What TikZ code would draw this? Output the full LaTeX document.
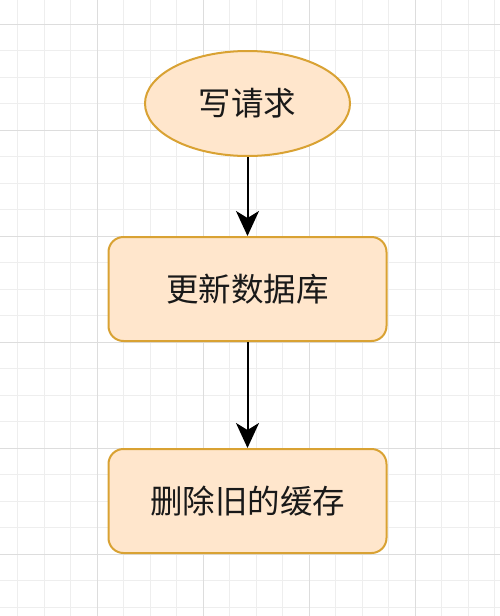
\documentclass[tikz,border=0pt]{standalone}
\usepackage{fontspec}
\newfontfamily\cjk{Noto Sans CJK SC}
\usetikzlibrary{shapes.geometric,arrows.meta}
\definecolor{riempi}{HTML}{FFE6CC}
\definecolor{bordo}{HTML}{D9A233}
\definecolor{griglia}{HTML}{EEEEEE}
\definecolor{grigliaforte}{HTML}{DDDDDD}
\begin{document}
\begin{tikzpicture}[x=1pt,y=-1pt,
        blocco/.style={draw=bordo, fill=riempi, line width=2pt, rounded corners=15pt, minimum width=278pt, minimum height=104pt, inner sep=0pt, text=black!90, font=\cjk\fontsize{32.5}{32.5}\selectfont},
        ovale/.style={blocco, ellipse, minimum width=205pt, minimum height=105pt},
        freccia/.style={line width=2pt, -{Stealth[length=25pt,width=23pt,inset=7pt]}}]

        % Sfondo e griglia
        \useasboundingbox (0,0) rectangle (500,616);
        \fill[white] (0,0) rectangle (500,616);
        \foreach \i in {0,...,18} \draw[griglia, line width=1pt] ({17.5+26.5*\i},0) -- ++(0,616);
        \foreach \j in {0,...,22} \draw[griglia, line width=1pt] (0,{24+26.5*\j}) -- ++(500,0);
        \foreach \i in {0,...,3} \draw[grigliaforte, line width=1pt] ({97+106*\i},0) -- ++(0,616);
        \foreach \j in {0,...,5} \draw[grigliaforte, line width=1pt] (0,{24+106*\j}) -- ++(500,0);

        % Blocchi
        \node[ovale] (richiesta) at (247.5, 103.5) {写请求};
        \node[blocco] (aggiorna) at (247.5, 289) {更新数据库};
        \node[blocco] (cancella) at (247.5, 501) {删除旧的缓存};

        % Frecce
        \draw[freccia] (richiesta) -- (aggiorna);
        \draw[freccia] (aggiorna) -- (cancella);
    \end{tikzpicture}
\end{document}
